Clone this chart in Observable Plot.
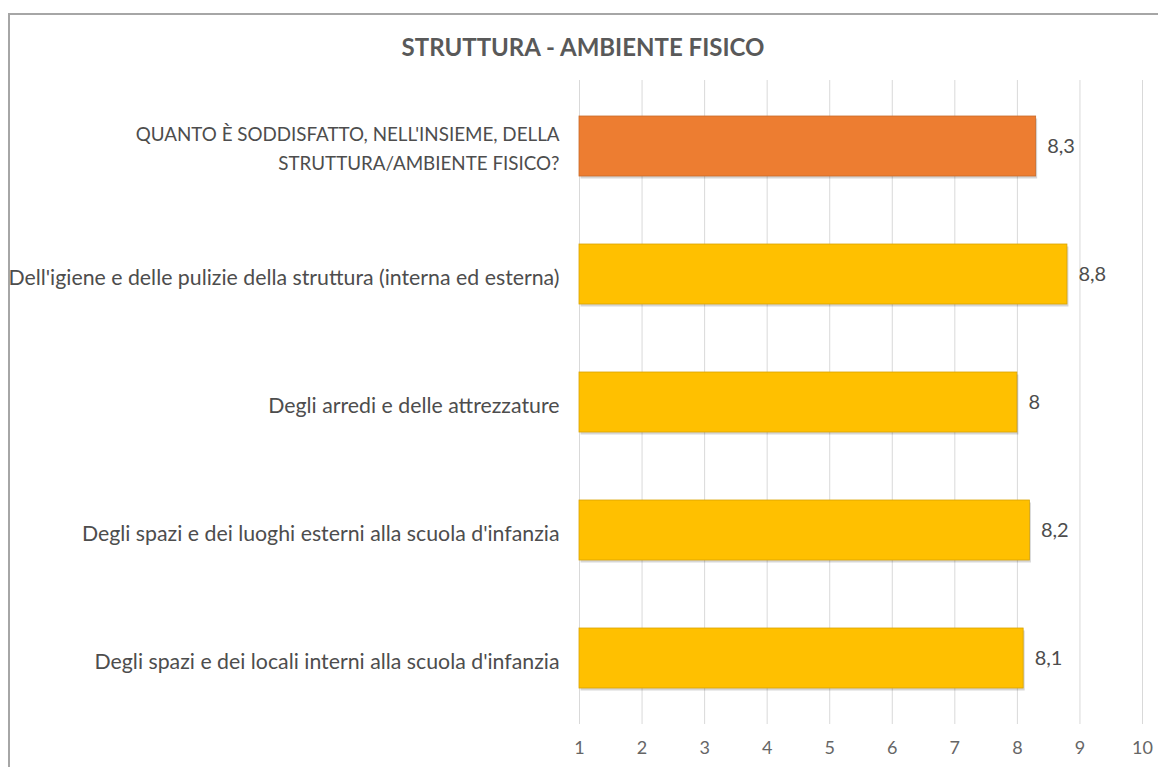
<!DOCTYPE html>
<html>
<head>
<meta charset="utf-8">
<script src="https://cdn.jsdelivr.net/npm/d3@7"></script>
<script src="https://cdn.jsdelivr.net/npm/@observablehq/plot@0.6"></script>
<style>
  body { margin: 0; background: #fff; font-family: Lato, sans-serif; }
  #wrap { position: relative; width: 1158px; height: 767px; overflow: hidden; }
  #frame { position: absolute; left: 8px; top: 13px; width: 1160px; height: 780px;
           border-left: 2px solid #A6A6A6; border-top: 2px solid #A6A6A6; }
  #title { position: absolute; left: 0; width: 1166px; top: 32px; text-align: center;
           font-weight: bold; font-size: 24px; color: #595959; font-family: Lato, sans-serif; }
  #chart { position: absolute; left: 0; top: 0; }
</style>
</head>
<body>
<div id="wrap">
  <div id="frame"></div>
  <div id="title">STRUTTURA - AMBIENTE FISICO</div>
  <div id="chart"></div>
</div>
<script>
const categories = [
  "QUANTO È SODDISFATTO, NELL'INSIEME, DELLA\nSTRUTTURA/AMBIENTE FISICO?",
  "Dell'igiene e delle pulizie della struttura (interna ed esterna)",
  "Degli arredi e delle attrezzature",
  "Degli spazi e dei luoghi esterni alla scuola d'infanzia",
  "Degli spazi e dei locali interni alla scuola d'infanzia"
];
const values = [8.3, 8.8, 8.0, 8.2, 8.1];
const isOverall = [true, false, false, false, false];
const xTicks = [1, 2, 3, 4, 5, 6, 7, 8, 9, 10];

const data = categories.map((c, i) => ({cat: c, v: values[i], overall: isOverall[i]}));
const fmt = v => String(v).replace(".", ",");

const plot = Plot.plot({
  width: 1158,
  height: 767,
  marginLeft: 579,
  marginRight: 16,
  marginTop: 80,
  marginBottom: 43,
  style: {fontFamily: "Lato, sans-serif", background: "transparent"},
  x: {domain: [1, 10], ticks: xTicks},
  y: {domain: categories, paddingInner: 0.534, paddingOuter: 0.267},
  marks: [
    Plot.gridX(xTicks, {stroke: "#D9D9D9", strokeOpacity: 1}),
    Plot.barX(data, {x1: 1, x2: "v", y: "cat", fill: "#000", fillOpacity: 0.16, dx: 1.5, dy: 2.5}),
    Plot.barX(data, {x1: 1, x2: "v", y: "cat",
      fill: d => d.overall ? "#ED7D31" : "#FFC000",
      stroke: d => d.overall ? "#C86A2A" : "#D9A400", strokeWidth: 0.8}),
    Plot.text(data, {x: "v", y: "cat", text: d => fmt(d.v), textAnchor: "start", dx: 11,
      fontSize: 20, fill: "#4d4d4d"}),
    Plot.axisY({tickSize: 0, tickPadding: 20, label: null,
      fontSize: d => d === categories[0] ? 18.8 : 21.3, lineHeight: 1.52,
      color: "#4d4d4d"}),
    Plot.axisX({ticks: xTicks, tickSize: 0, tickPadding: 17, label: null, fontSize: 18,
      color: "#666666", tickFormat: d => String(d)})
  ]
});
document.getElementById("chart").appendChild(plot);
</script>
</body>
</html>
